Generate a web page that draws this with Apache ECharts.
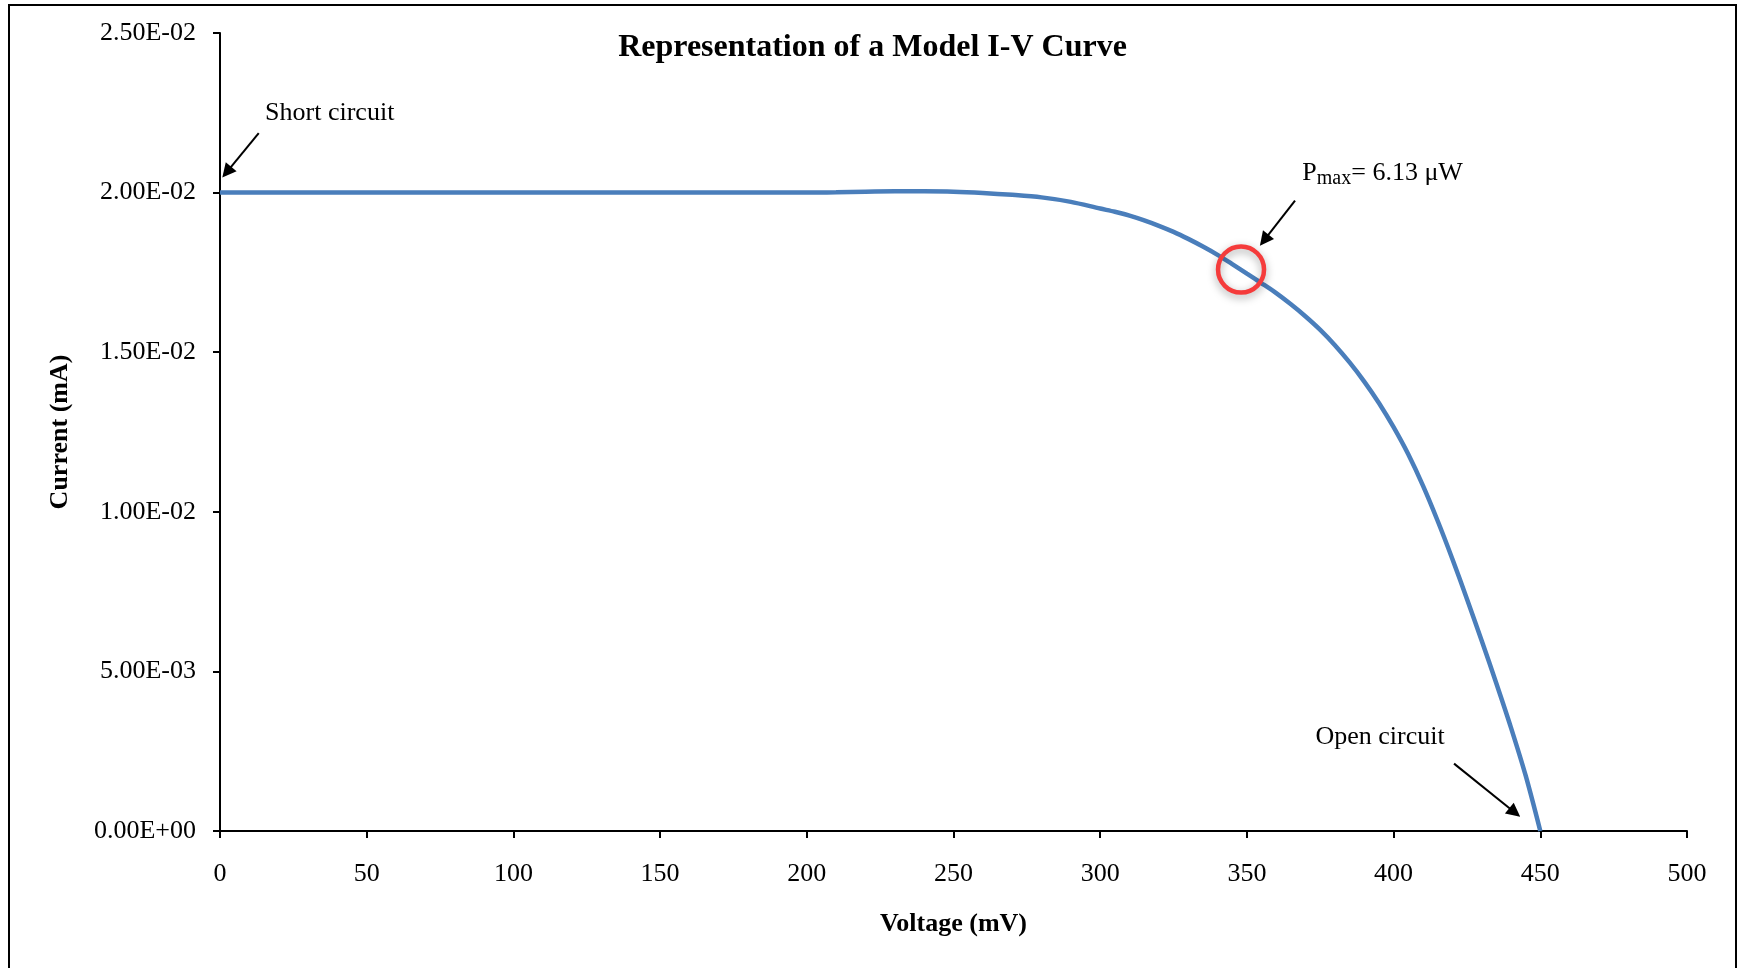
<!DOCTYPE html>
<html>
<head>
<meta charset="utf-8">
<script src="https://cdn.jsdelivr.net/npm/echarts@6/dist/echarts.min.js"></script>
<style>html,body{margin:0;padding:0;background:#fff}#chart{width:1745px;height:968px}</style>
</head>
<body>
<div id="chart"></div>
<script>
// Data
const voltage = [0, 50, 100, 150, 200, 210, 220, 230, 240, 250, 260, 270, 280, 290, 300, 305, 310, 315, 320, 325, 330, 335, 340, 345, 350, 355, 360, 365, 370, 375, 380, 385, 390, 395, 400, 405, 410, 415, 420, 425, 430, 435, 440, 445, 450];
const current = [0.0200, 0.0200, 0.0200, 0.0200, 0.0200, 0.02001, 0.02003, 0.02004, 0.02004, 0.02003, 0.01999, 0.01993, 0.01985, 0.01971, 0.01950, 0.01940, 0.01928, 0.01913, 0.01896, 0.01877, 0.01855, 0.01831, 0.01805, 0.01776, 0.01746, 0.01716, 0.01685, 0.01650, 0.01612, 0.01570, 0.01522, 0.01468, 0.01408, 0.01341, 0.01265, 0.01180, 0.01082, 0.00972, 0.00853, 0.00727, 0.00597, 0.00463, 0.00324, 0.00174, 0];
const pmaxPoint = [348, 0.01759];
const xTicks = [0, 50, 100, 150, 200, 250, 300, 350, 400, 450, 500];
const yTicks = [0, 0.005, 0.01, 0.015, 0.02, 0.025];
const titleText = 'Representation of a Model I-V Curve';
const xName = 'Voltage (mV)';
const yName = 'Current (mA)';
const annotations = [
  {name: 'Short circuit', text: [37.4, 0.02249], from: [13.2, 0.02186], to: [2.3, 0.02064]},
  {name: 'Pmax', text: [368.9, 0.02062], from: [366.4, 0.01975], to: [355.9, 0.01851]},
  {name: 'Open circuit', text: [395.4, 0.00293], from: [420.6, 0.00211], to: [441.3, 0.00058]}
];

const FONT = '"Liberation Serif", "Times New Roman", serif';
const chart = echarts.init(document.getElementById('chart'));

function sci(v) {
  let s = Number(v).toExponential(2);
  let m = s.split('e');
  let exp = parseInt(m[1], 10);
  let sign = exp < 0 ? '-' : '+';
  let a = Math.abs(exp);
  return m[0] + 'E' + sign + (a < 10 ? '0' + a : '' + a);
}

const seriesData = voltage.map((v, i) => [v, current[i]]);

const textPoints = annotations.map(a => {
  let isP = a.name === 'Pmax';
  return {
    coord: a.text,
    symbol: 'rect',
    symbolSize: 1,
    itemStyle: {color: 'rgba(0,0,0,0)'},
    label: {
      show: true,
      position: 'inside',
      align: isP ? 'left' : 'center',
      verticalAlign: 'middle',
      fontFamily: FONT,
      fontSize: 26,
      color: '#000',
      formatter: isP ? '{p|P}{s|max}{p|= 6.13 μW}' : a.name,
      rich: isP ? {
        p: {fontFamily: FONT, fontSize: 26, color: '#000', lineHeight: 36, verticalAlign: 'middle'},
        s: {fontFamily: FONT, fontSize: 20, color: '#000', lineHeight: 36, verticalAlign: 'bottom', padding: [0, 0, 2, 0]}
      } : {}
    }
  };
});

const option = {
  backgroundColor: '#fff',
  animation: false,
  title: {
    text: titleText,
    left: 'center',
    top: 27,
    textStyle: {fontFamily: FONT, fontSize: 32, fontWeight: 'bold', color: '#000'}
  },
  grid: {left: 220, right: 58, top: 33, bottom: 137, containLabel: false, outerBoundsMode: 'none'},
  xAxis: {
    type: 'value',
    min: xTicks[0],
    max: xTicks[xTicks.length - 1],
    interval: xTicks[1] - xTicks[0],
    name: xName,
    nameLocation: 'middle',
    nameGap: 80,
    nameTextStyle: {fontFamily: FONT, fontSize: 26, fontWeight: 'bold', color: '#000'},
    axisLine: {show: true, onZero: false, lineStyle: {color: '#000', width: 2}},
    axisTick: {show: true, inside: false, length: 7, lineStyle: {color: '#000', width: 2}},
    axisLabel: {fontFamily: FONT, fontSize: 26, color: '#000', margin: 30},
    splitLine: {show: false}
  },
  yAxis: {
    type: 'value',
    min: yTicks[0],
    max: yTicks[yTicks.length - 1],
    interval: yTicks[1] - yTicks[0],
    name: yName,
    nameLocation: 'middle',
    nameGap: 147,
    nameTextStyle: {fontFamily: FONT, fontSize: 26, fontWeight: 'bold', color: '#000'},
    axisLine: {show: true, lineStyle: {color: '#000', width: 2}},
    axisTick: {show: true, inside: false, length: 7, lineStyle: {color: '#000', width: 2}},
    axisLabel: {fontFamily: FONT, fontSize: 26, color: '#000', margin: 24, formatter: sci},
    splitLine: {show: false}
  },
  graphic: [{
    type: 'rect',
    shape: {x: 9, y: 5, width: 1727, height: 1000},
    style: {fill: 'none', stroke: '#000', lineWidth: 2},
    silent: true,
    z: 100
  }],
  series: [{
    type: 'line',
    data: seriesData,
    smooth: 0.3,
    showSymbol: false,
    symbol: 'none',
    lineStyle: {color: '#4a7ebb', width: 4.5},
    itemStyle: {color: '#4a7ebb'},
    markLine: {
      silent: true,
      animation: false,
      symbol: ['none', 'triangle'],
      symbolSize: 14,
      lineStyle: {color: '#000', width: 2, type: 'solid'},
      itemStyle: {color: '#000'},
      label: {show: false},
      emphasis: {disabled: true},
      data: annotations.map(a => [{coord: a.from}, {coord: a.to}])
    },
    markPoint: {
      silent: true,
      animation: false,
      data: [{
        coord: pmaxPoint,
        symbol: 'circle',
        symbolSize: 46,
        itemStyle: {color: 'rgba(255,255,255,0)', borderColor: '#f53b3b', borderWidth: 4.5, shadowColor: 'rgba(0,0,0,0.35)', shadowBlur: 8, shadowOffsetY: 3},
        label: {show: false}
      }].concat(textPoints)
    }
  }]
};
chart.setOption(option);
</script>
</body>
</html>
